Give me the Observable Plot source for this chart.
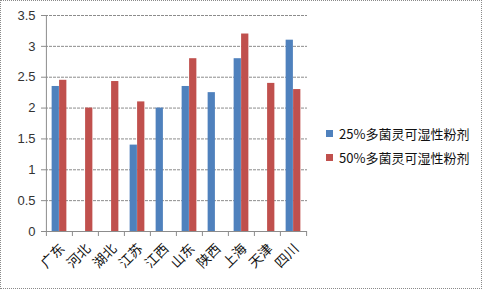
<!DOCTYPE html>
<html><head><meta charset="utf-8">
<script src="https://cdn.jsdelivr.net/npm/d3@7"></script>
<script src="https://cdn.jsdelivr.net/npm/@observablehq/plot@0.6"></script>
<style>
body{margin:0;background:#fff;}
#wrap{position:relative;width:482px;height:289px;overflow:hidden;background:#fff;}
#wrap svg{position:absolute;left:0;top:0;}
#frame{position:absolute;left:0;top:0;width:480px;height:287px;border:1px dotted #8a8a8a;pointer-events:none;}
#legend{position:absolute;left:326px;top:121px;font:13px "Noto Sans CJK SC","Noto Sans",sans-serif;color:#111;}
.item{display:flex;align-items:center;height:24px;white-space:nowrap;}
.sw{width:7px;height:7px;margin-right:6px;flex:none;}
</style></head><body><div id="wrap"></div>
<script>
const categories = ["广东","河北","湖北","江苏","江西","山东","陕西","上海","天津","四川"];
const series = ["25%多菌灵可湿性粉剂","50%多菌灵可湿性粉剂"];
const values25 = [2.35, null, null, 1.4, 2.0, 2.35, 2.25, 2.8, null, 3.1];
const values50 = [2.45, 2.0, 2.43, 2.1, null, 2.8, null, 3.2, 2.4, 2.3];
const colors = ["#4F81BD", "#C0504D"];
const yTicks = [0, 0.5, 1, 1.5, 2, 2.5, 3, 3.5];

const rows = [];
categories.forEach((c, i) => {
  if (values25[i] != null) rows.push({cat: c, series: series[0], value: values25[i]});
  if (values50[i] != null) rows.push({cat: c, series: series[1], value: values50[i]});
});

const W = 482, H = 289, ML = 45, MR = 175, MT = 15, MB = 58;
const band = (W - ML - MR) / categories.length;
const gridColor = "#8c8c8c";

const plot = Plot.plot({
  width: W, height: H,
  marginLeft: ML, marginRight: MR, marginTop: MT, marginBottom: MB,
  style: {background: "transparent", fontFamily: "'Liberation Sans', Arial, sans-serif", overflow: "visible"},
  x: {domain: categories, padding: 0, label: null},
  y: {domain: [0, 3.5], label: null},
  color: {domain: series, range: colors},
  marks: [
    Plot.gridY(yTicks.slice(1), {stroke: gridColor, strokeOpacity: 1, strokeDasharray: "3,1"}),
    Plot.barY(rows.filter(d => d.series === series[0]), {x: "cat", y: "value", fill: "series", insetLeft: band * 0.215, insetRight: band * 0.5}),
    Plot.barY(rows.filter(d => d.series === series[1]), {x: "cat", y: "value", fill: "series", insetLeft: band * 0.5, insetRight: band * 0.215}),
    Plot.ruleY([0], {stroke: gridColor}),
    Plot.ruleX([categories[0]], {dx: -band / 2, stroke: gridColor}),
    Plot.axisY(yTicks, {tickSize: 4, stroke: gridColor, tickPadding: 6, fontSize: 13, fill: "#333", tickFormat: d => String(d), label: null}),
    Plot.axisX(categories, {tickSize: 5, dx: -band / 2, stroke: gridColor, tickFormat: () => "", label: null}),
    Plot.axisX([categories[categories.length - 1]], {tickSize: 5, dx: band / 2, stroke: gridColor, tickFormat: () => "", label: null}),
    Plot.axisX(categories, {tickSize: 0, tickRotate: -45, tickPadding: 15, dx: 3, fontSize: 13.5, fill: "#111",
      fontFamily: "'Noto Sans CJK SC', sans-serif", label: null})
  ]
});

const wrap = document.getElementById("wrap");
wrap.appendChild(plot);
const legend = document.createElement("div");
legend.id = "legend";
series.forEach((s, i) => {
  const it = document.createElement("div");
  it.className = "item";
  const sw = document.createElement("span");
  sw.className = "sw";
  sw.style.background = colors[i];
  const t = document.createElement("span");
  t.textContent = s;
  it.appendChild(sw); it.appendChild(t);
  legend.appendChild(it);
});
wrap.appendChild(legend);
const frame = document.createElement("div");
frame.id = "frame";
wrap.appendChild(frame);
</script>
</body></html>
